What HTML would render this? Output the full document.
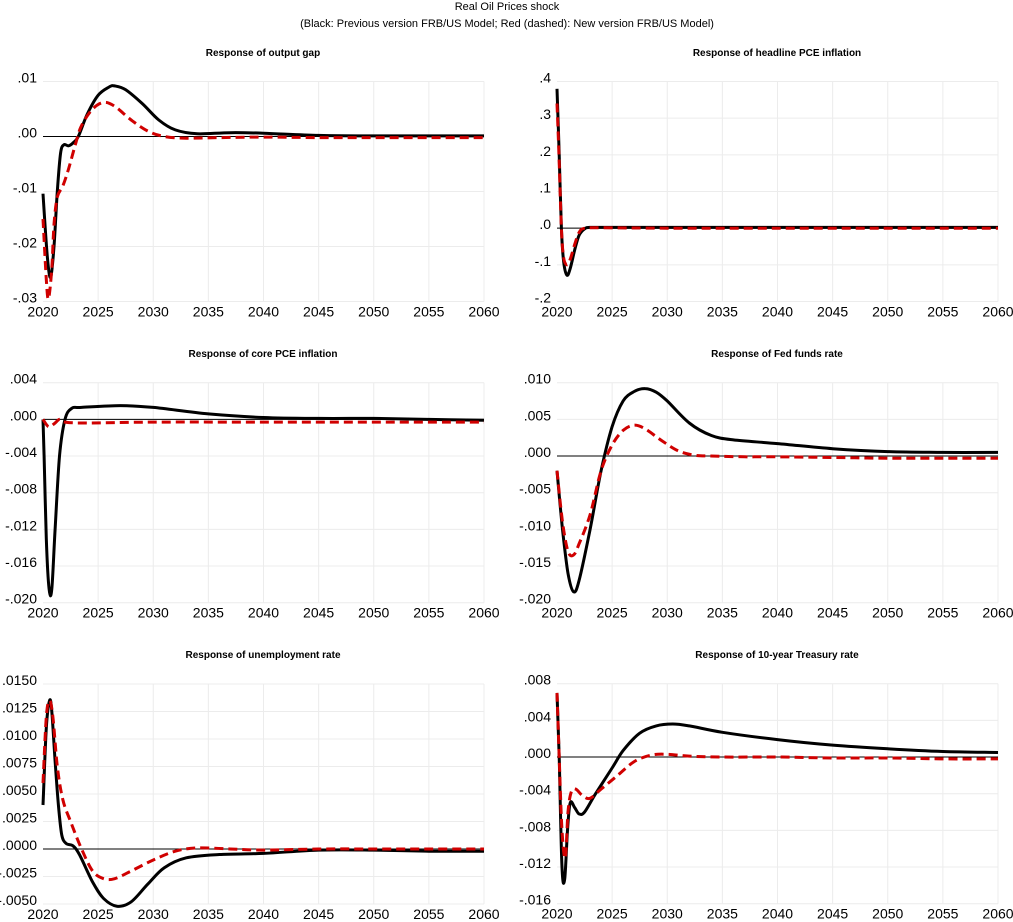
<!DOCTYPE html>
<html><head><meta charset="utf-8">
<style>
html,body{margin:0;padding:0;background:#fff;}
svg{display:block;}
text{font-family:"Liberation Sans",sans-serif;fill:#000;}
</style></head>
<body>
<svg id="s" width="1013" height="922" xmlns="http://www.w3.org/2000/svg">
<text x="507" y="10" font-size="11" text-anchor="middle">Real Oil Prices shock</text>
<text x="507" y="27" font-size="11" text-anchor="middle">(Black: Previous version FRB/US Model; Red (dashed): New version FRB/US Model)</text>
</svg>
<script>
const S=document.getElementById('s');const NS='http://www.w3.org/2000/svg';
function el(t,a,txt){const e=document.createElementNS(NS,t);for(const k in a)e.setAttribute(k,a[k]);if(txt!==undefined)e.textContent=txt;S.appendChild(e);return e;}
const panels=[
{x0:43,x1:484,top:81.5,title:"Response of output gap",tx:263,ty:56,ticks:[".01",".00","-.01","-.02","-.03"],vmax:0.01,vmin:-0.03,
 b:[[2020,-0.0104],[2020.4,-0.022],[2020.7,-0.0256],[2021,-0.02],[2021.3,-0.01],[2021.6,-0.003],[2021.9,-0.0015],[2022.3,-0.0017],[2022.7,-0.0012],[2023.2,0],[2024,0.004],[2025,0.0075],[2026,0.009],[2026.5,0.0092],[2027.5,0.0085],[2029,0.006],[2030.5,0.003],[2032,0.0012],[2034,0.0005],[2037,0.0007],[2040,0.0006],[2045,0.0002],[2050,0.0001],[2055,0.0001],[2060,0.0001]],
 r:[[2020,-0.015],[2020.3,-0.026],[2020.5,-0.0295],[2020.8,-0.024],[2021,-0.016],[2021.3,-0.011],[2021.8,-0.009],[2022.3,-0.006],[2023,-0.001],[2023.5,0.002],[2024.5,0.005],[2025.5,0.0062],[2026.5,0.0055],[2028,0.003],[2029.5,0.001],[2031,0],[2033,-0.0003],[2036,-0.0002],[2040,-0.0001],[2045,-0.0002],[2050,-0.0002],[2055,-0.0002],[2060,-0.0002]]},
{x0:557,x1:998,top:81.5,title:"Response of headline PCE inflation",tx:777,ty:56,ticks:[".4",".3",".2",".1",".0","-.1","-.2"],vmax:0.4,vmin:-0.2,
 b:[[2020,0.38],[2020.2,0.2],[2020.4,0],[2020.6,-0.09],[2020.9,-0.128],[2021.2,-0.11],[2021.6,-0.06],[2022,-0.02],[2022.5,-0.002],[2023,0.002],[2025,0.002],[2030,0.002],[2040,0.002],[2050,0.002],[2060,0.002]],
 r:[[2020,0.34],[2020.2,0.18],[2020.4,0],[2020.6,-0.08],[2020.9,-0.1],[2021.2,-0.085],[2021.6,-0.045],[2022,-0.012],[2022.5,0],[2024,0.001],[2030,0],[2040,0],[2050,0],[2060,0]]},
{x0:43,x1:484,top:382.7,title:"Response of core PCE inflation",tx:263,ty:357,ticks:[".004",".000","-.004","-.008","-.012","-.016","-.020"],vmax:0.004,vmin:-0.02,
 b:[[2020,0],[2020.1,-0.004],[2020.3,-0.013],[2020.55,-0.0185],[2020.8,-0.0185],[2021.1,-0.012],[2021.5,-0.004],[2022,0],[2022.6,0.0012],[2023.5,0.0013],[2027,0.0015],[2030,0.0013],[2035,0.0006],[2040,0.0002],[2045,0.0001],[2050,0.0001],[2055,0],[2060,-0.0001]],
 r:[[2020,0],[2020.5,-0.0008],[2021,-0.0005],[2021.5,0],[2022,-0.0003],[2024,-0.0004],[2030,-0.0003],[2040,-0.0003],[2050,-0.0003],[2060,-0.0003]]},
{x0:557,x1:998,top:382.7,title:"Response of Fed funds rate",tx:777,ty:357,ticks:[".010",".005",".000","-.005","-.010","-.015","-.020"],vmax:0.01,vmin:-0.02,
 b:[[2020,-0.002],[2020.5,-0.01],[2021,-0.016],[2021.5,-0.0185],[2022,-0.017],[2023,-0.01],[2024,-0.002],[2025,0.004],[2026,0.0075],[2027,0.0088],[2028,0.0092],[2029,0.0087],[2030,0.0075],[2032,0.0045],[2034,0.0028],[2036,0.0022],[2040,0.0017],[2045,0.001],[2050,0.0006],[2055,0.0005],[2060,0.0005]],
 r:[[2020,-0.002],[2020.5,-0.009],[2021,-0.013],[2021.5,-0.0135],[2022,-0.012],[2023,-0.008],[2024,-0.002],[2025,0.0015],[2026,0.0035],[2027,0.0042],[2028,0.0037],[2029.5,0.0021],[2031,0.0007],[2032.5,0.0001],[2034,0],[2037,-0.0001],[2040,-0.0001],[2045,-0.0002],[2050,-0.0003],[2055,-0.0003],[2060,-0.0003]]},
{x0:43,x1:484,top:684,title:"Response of unemployment rate",tx:263,ty:658,ticks:[".0150",".0125",".0100",".0075",".0050",".0025",".0000","-.0025","-.0050"],vmax:0.015,vmin:-0.005,
 b:[[2020,0.004],[2020.3,0.011],[2020.6,0.0135],[2020.8,0.0125],[2021.1,0.008],[2021.4,0.004],[2021.7,0.0013],[2022.1,0.0005],[2022.7,0.0003],[2023.3,-0.0005],[2024.5,-0.003],[2025.5,-0.0045],[2026.7,-0.0052],[2028,-0.0048],[2029.5,-0.0032],[2031,-0.0017],[2033,-0.0008],[2036,-0.0005],[2040,-0.0004],[2045,-0.0001],[2050,-0.0001],[2055,-0.0002],[2060,-0.0002]],
 r:[[2020,0.006],[2020.3,0.012],[2020.6,0.0135],[2020.9,0.012],[2021.3,0.0075],[2021.8,0.0045],[2022.5,0.0025],[2023.5,0],[2024.5,-0.002],[2025.5,-0.0027],[2026.5,-0.0027],[2028,-0.002],[2030,-0.001],[2032,-0.0002],[2034,0.0001],[2037,0],[2040,-0.0001],[2045,0],[2050,0],[2055,0],[2060,0]]},
{x0:557,x1:998,top:683.7,title:"Response of 10-year Treasury rate",tx:777,ty:658,ticks:[".008",".004",".000","-.004","-.008","-.012","-.016"],vmax:0.008,vmin:-0.016,
 b:[[2020,0.007],[2020.2,0],[2020.45,-0.012],[2020.7,-0.0133],[2020.95,-0.008],[2021.2,-0.005],[2021.6,-0.0055],[2022,-0.0062],[2022.5,-0.006],[2023.5,-0.004],[2025,-0.0012],[2026,0.0007],[2027.5,0.0026],[2029,0.0034],[2030.5,0.0036],[2032,0.0034],[2035,0.0027],[2040,0.0019],[2045,0.0013],[2050,0.0009],[2055,0.0006],[2060,0.0005]],
 r:[[2020,0.007],[2020.2,0],[2020.45,-0.008],[2020.75,-0.011],[2021,-0.006],[2021.3,-0.0038],[2021.7,-0.0035],[2022.3,-0.0042],[2023,-0.0045],[2024,-0.0035],[2025.5,-0.002],[2027,-0.0005],[2028.5,0.0002],[2030,0.0003],[2032,0.0001],[2035,0],[2040,0],[2045,-0.0001],[2050,-0.0001],[2055,-0.0002],[2060,-0.0002]]}
];
function path(pts){
 let d='M'+pts[0][0].toFixed(1)+','+pts[0][1].toFixed(1);
 for(let i=0;i<pts.length-1;i++){
  const p0=pts[Math.max(i-1,0)],p1=pts[i],p2=pts[i+1],p3=pts[Math.min(i+2,pts.length-1)];
  const c1=[p1[0]+(p2[0]-p0[0])/6,p1[1]+(p2[1]-p0[1])/6],c2=[p2[0]-(p3[0]-p1[0])/6,p2[1]-(p3[1]-p1[1])/6];
  d+=' C'+c1.map(v=>v.toFixed(1))+' '+c2.map(v=>v.toFixed(1))+' '+p2[0].toFixed(1)+','+p2[1].toFixed(1);
 }
 return d;
}
for(const p of panels){
 const H=220,bot=p.top+H;
 const X=y=>p.x0+(y-2020)/40*(p.x1-p.x0);
 const Y=v=>p.top+(p.vmax-v)/(p.vmax-p.vmin)*H;
 el('text',{x:p.tx,y:p.ty,'font-size':'10','font-weight':'bold','text-anchor':'middle'},p.title);
 const n=p.ticks.length;
 for(let i=0;i<n;i++){
  const y=p.top+i*H/(n-1);
  el('line',{x1:p.x0,x2:p.x1,y1:y,y2:y,stroke:'#ececec','stroke-width':1});
  el('text',{x:p.x0-6,y:y+1,'font-size':'14','text-anchor':'end'},p.ticks[i]);
 }
 for(let yr=2020;yr<=2060;yr+=5){
  const x=X(yr);
  if(yr>2020) el('line',{x1:x,x2:x,y1:p.top,y2:bot,stroke:'#ececec','stroke-width':1});
  el('text',{x:x,y:bot+15,'font-size':'14','text-anchor':'middle'},String(yr));
 }
 const z=Y(0);
 el('line',{x1:p.x0,x2:p.x1,y1:z,y2:z,stroke:'#000','stroke-width':1});
 el('path',{d:path(p.b.map(q=>[X(q[0]),Y(q[1])])),fill:'none',stroke:'#000','stroke-width':3,'stroke-linejoin':'round'});
 el('path',{d:path(p.r.map(q=>[X(q[0]),Y(q[1])])),fill:'none',stroke:'#d00000','stroke-width':3,'stroke-dasharray':'9,5'});
}
</script>
</body></html>
